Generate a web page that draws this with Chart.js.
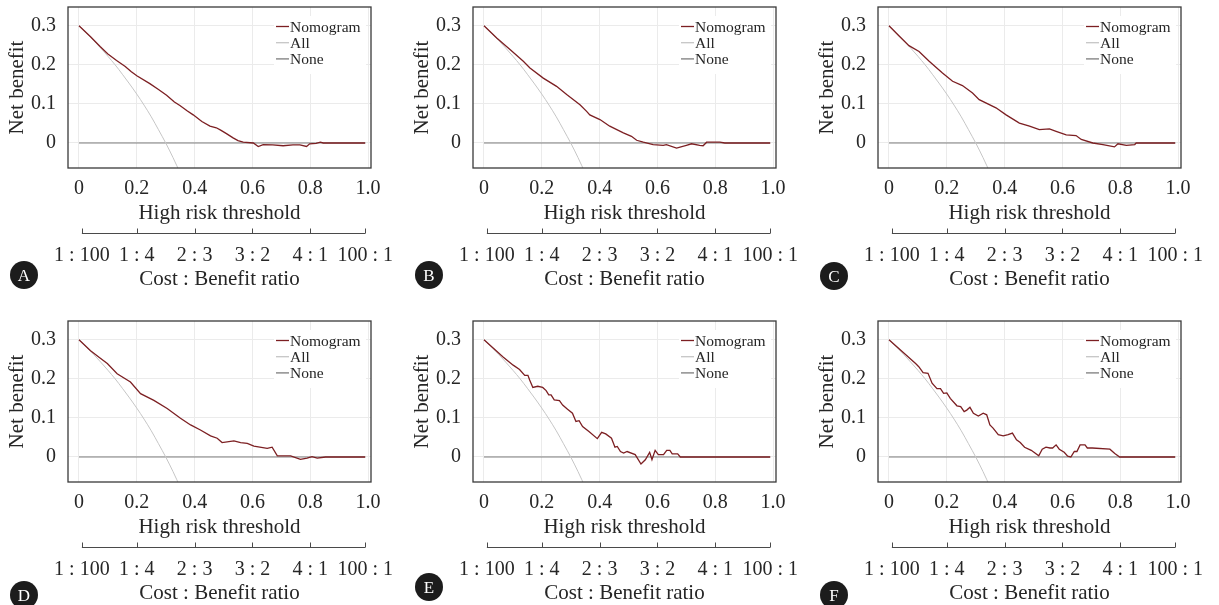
<!DOCTYPE html>
<html>
<head>
<meta charset="utf-8">
<script src="https://cdn.jsdelivr.net/npm/chart.js@4.4.1/dist/chart.umd.min.js"></script>
<style>
  body { margin: 0; background: #fff; width: 1219px; height: 605px; overflow: hidden; position: relative; }
  .panel { position: absolute; width: 410px; height: 300px; }
  .tag { position: absolute; left: 10px; width: 28px; height: 28px; border-radius: 50%; background: #1c1c1c;
         color: #fff; font: 17px 'Liberation Serif', serif; text-align: center; line-height: 29px; }
</style>
</head>
<body>
<div class="panel" style="left:0;top:0"><canvas id="cA" width="410" height="300"></canvas><div class="tag" style="top:261px">A</div></div>
<div class="panel" style="left:405px;top:0"><canvas id="cB" width="410" height="300"></canvas><div class="tag" style="top:261px">B</div></div>
<div class="panel" style="left:810px;top:0"><canvas id="cC" width="410" height="300"></canvas><div class="tag" style="top:262px">C</div></div>
<div class="panel" style="left:0;top:314px"><canvas id="cD" width="410" height="300"></canvas><div class="tag" style="top:267px">D</div></div>
<div class="panel" style="left:405px;top:314px"><canvas id="cE" width="410" height="300"></canvas><div class="tag" style="top:259px">E</div></div>
<div class="panel" style="left:810px;top:314px"><canvas id="cF" width="410" height="300"></canvas><div class="tag" style="top:267px">F</div></div>
<script>
// axis ticks
const riskTicks = [0, 0.2, 0.4, 0.6, 0.8, 1.0];
const riskLabels = ['0', '0.2', '0.4', '0.6', '0.8', '1.0'];
const ratioAt = [0.01, 0.2, 0.4, 0.6, 0.8, 0.99];
const ratioLabels = ['1 : 100', '1 : 4', '2 : 3', '3 : 2', '4 : 1', '100 : 1'];
const nbTicks = [0, 0.1, 0.2, 0.3];
const nbLabels = ['0', '0.1', '0.2', '0.3'];
const seriesNames = ['Nomogram', 'All', 'None'];

// treat-all and treat-none reference curves (same in every panel)
const allThr = [0, 0.025, 0.05, 0.075, 0.1, 0.125, 0.15, 0.175, 0.2, 0.225, 0.25, 0.275, 0.3, 0.325, 0.35];
const allNb = [0.300, 0.282, 0.263, 0.243, 0.222, 0.200, 0.176, 0.151, 0.125, 0.097, 0.067, 0.034, 0.000, -0.037, -0.077];
const noneThr = [0, 0.99];
const noneNb = [0, 0];

// nomogram curves, one per panel
const thrA = [0, 0.04, 0.073, 0.1, 0.13, 0.16, 0.18, 0.2, 0.245, 0.275, 0.303, 0.33, 0.349, 0.375, 0.395, 0.425, 0.453, 0.475, 0.49, 0.51, 0.533, 0.55, 0.568, 0.603, 0.62, 0.637, 0.67, 0.706, 0.74, 0.764, 0.787, 0.798, 0.82, 0.835, 0.845, 0.99];
const nbA = [0.300, 0.272, 0.247, 0.228, 0.211, 0.196, 0.183, 0.172, 0.152, 0.137, 0.122, 0.105, 0.096, 0.082, 0.072, 0.055, 0.043, 0.039, 0.033, 0.024, 0.013, 0.006, 0.002, 0.000, -0.009, -0.004, -0.005, -0.007, -0.005, -0.005, -0.009, -0.002, -0.001, 0.002, 0, 0];

const thrB = [0, 0.045, 0.09, 0.136, 0.159, 0.205, 0.251, 0.286, 0.332, 0.355, 0.366, 0.401, 0.435, 0.482, 0.51, 0.528, 0.551, 0.585, 0.62, 0.631, 0.666, 0.70, 0.718, 0.746, 0.758, 0.77, 0.816, 0.833, 0.99];
const nbB = [0.300, 0.268, 0.239, 0.209, 0.192, 0.166, 0.145, 0.124, 0.098, 0.081, 0.072, 0.060, 0.043, 0.026, 0.017, 0.007, 0.002, -0.004, -0.006, -0.004, -0.013, -0.006, -0.002, -0.006, -0.007, 0.002, 0.002, 0, 0];

const thrC = [0, 0.035, 0.069, 0.104, 0.139, 0.185, 0.22, 0.254, 0.289, 0.312, 0.37, 0.405, 0.451, 0.486, 0.52, 0.555, 0.578, 0.613, 0.647, 0.665, 0.705, 0.74, 0.78, 0.792, 0.821, 0.85, 0.855, 0.99];
const nbC = [0.300, 0.274, 0.249, 0.234, 0.209, 0.179, 0.158, 0.147, 0.128, 0.111, 0.090, 0.072, 0.051, 0.043, 0.034, 0.036, 0.030, 0.021, 0.019, 0.009, 0.000, -0.004, -0.010, -0.002, -0.006, -0.004, 0, 0];

const thrD = [0, 0.04, 0.075, 0.098, 0.132, 0.178, 0.213, 0.259, 0.305, 0.351, 0.386, 0.42, 0.455, 0.478, 0.495, 0.536, 0.559, 0.582, 0.605, 0.651, 0.668, 0.686, 0.732, 0.766, 0.789, 0.806, 0.824, 0.853, 0.99];
const nbD = [0.300, 0.272, 0.252, 0.239, 0.213, 0.192, 0.162, 0.145, 0.124, 0.099, 0.082, 0.069, 0.054, 0.048, 0.037, 0.041, 0.037, 0.035, 0.028, 0.022, 0.025, 0.003, 0.003, -0.006, -0.003, 0.001, -0.003, 0, 0];

const thrE = [0, 0.066, 0.101, 0.123, 0.141, 0.152, 0.158, 0.169, 0.186, 0.203, 0.215, 0.224, 0.232, 0.243, 0.261, 0.272, 0.289, 0.306, 0.318, 0.329, 0.341, 0.363, 0.392, 0.407, 0.421, 0.441, 0.453, 0.461, 0.472, 0.483, 0.495, 0.523, 0.543, 0.558, 0.573, 0.581, 0.592, 0.603, 0.621, 0.632, 0.643, 0.651, 0.67, 0.679, 0.99];
const nbE = [0.300, 0.256, 0.235, 0.224, 0.209, 0.209, 0.197, 0.178, 0.181, 0.178, 0.170, 0.159, 0.159, 0.146, 0.144, 0.133, 0.122, 0.112, 0.091, 0.093, 0.078, 0.065, 0.047, 0.063, 0.059, 0.048, 0.025, 0.027, 0.014, 0.010, 0.014, 0.006, -0.018, -0.007, 0.012, -0.007, 0.017, 0.006, 0.006, 0.017, 0.017, 0.008, 0.008, 0, 0];

const thrF = [0, 0.092, 0.103, 0.118, 0.135, 0.149, 0.166, 0.178, 0.189, 0.2, 0.212, 0.235, 0.248, 0.26, 0.269, 0.28, 0.292, 0.309, 0.326, 0.338, 0.349, 0.36, 0.378, 0.395, 0.412, 0.427, 0.441, 0.454, 0.469, 0.492, 0.518, 0.53, 0.543, 0.557, 0.566, 0.578, 0.589, 0.606, 0.618, 0.629, 0.641, 0.65, 0.661, 0.678, 0.686, 0.703, 0.764, 0.781, 0.798, 0.99];
const nbF = [0.300, 0.239, 0.231, 0.216, 0.214, 0.189, 0.175, 0.175, 0.163, 0.164, 0.150, 0.131, 0.129, 0.116, 0.120, 0.127, 0.112, 0.105, 0.112, 0.108, 0.082, 0.074, 0.057, 0.054, 0.057, 0.061, 0.044, 0.037, 0.025, 0.017, 0.003, 0.020, 0.025, 0.023, 0.023, 0.031, 0.020, 0.012, 0.002, 0, 0.014, 0.014, 0.031, 0.031, 0.023, 0.023, 0.020, 0.009, 0, 0];

const xMin = -0.038, xMax = 1.01;
const yMin = -0.064, yMax = 0.348;
const serif = "'Liberation Serif', serif";
const textColor = '#262626';
const gridColor = '#ebebeb';
const lineColors = ['#7c1f22', '#c6c6c6', '#7d7d7d'];

function toPoints(xs, ys) {
    return xs.map((x, i) => ({ x: x, y: ys[i] }));
}

// fixed box sizes, no extra room for overhanging labels
function fixSize(prop, size) {
    return s => {
        s[prop] = size;
        s.paddingTop = 0; s.paddingBottom = 0; s.paddingLeft = 0; s.paddingRight = 0;
    };
}

// frame, cost:benefit axis line and the legend
const panelDecor = {
    id: 'panelDecor',
    afterDraw(chart) {
        const { ctx, chartArea: a, scales } = chart;
        ctx.save();
        ctx.strokeStyle = '#3a3a3a';
        ctx.lineWidth = 1.3;
        ctx.strokeRect(a.left, a.top, a.width, a.height);

        const s = scales.x2;
        const y = s.top + 7.5;
        ctx.strokeStyle = '#4a4a4a';
        ctx.lineWidth = 1;
        ctx.beginPath();
        ctx.moveTo(s.getPixelForValue(ratioAt[0]), y);
        ctx.lineTo(s.getPixelForValue(ratioAt[ratioAt.length - 1]), y);
        ratioAt.forEach(v => {
            const px = Math.round(s.getPixelForValue(v)) + 0.5;
            ctx.moveTo(px, y);
            ctx.lineTo(px, y - 5);
        });
        ctx.stroke();

        // legend in the top right corner
        ctx.fillStyle = '#fff';
        ctx.fillRect(a.right - 97, a.top + 9, 92, 58);
        ctx.font = '15.5px ' + serif;
        ctx.textBaseline = 'middle';
        chart.data.datasets.forEach((ds, i) => {
            const ly = a.top + 19.5 + i * 16.2;
            ctx.strokeStyle = ds.borderColor;
            ctx.lineWidth = 1.3;
            ctx.beginPath();
            ctx.moveTo(a.right - 95, ly);
            ctx.lineTo(a.right - 82, ly);
            ctx.stroke();
            ctx.fillStyle = textColor;
            ctx.fillText(ds.label, a.right - 81, ly + 1);
        });
        ctx.restore();
    }
};

function makePanel(id, thr, nb) {
    const tickFont = { family: serif, size: 20 };
    const titleFont = { family: serif, size: 21 };
    new Chart(document.getElementById(id), {
        type: 'line',
        data: {
            datasets: [
                { label: seriesNames[0], data: toPoints(thr, nb), borderColor: lineColors[0], borderWidth: 1.3 },
                { label: seriesNames[1], data: toPoints(allThr, allNb), borderColor: lineColors[1], borderWidth: 1, cubicInterpolationMode: 'monotone' },
                { label: seriesNames[2], data: toPoints(noneThr, noneNb), borderColor: lineColors[2], borderWidth: 1 }
            ]
        },
        options: {
            responsive: false,
            animation: false,
            layout: { padding: { top: 7, right: 39, bottom: 8, left: 0 } },
            elements: { point: { radius: 0 }, line: { tension: 0 } },
            plugins: { legend: { display: false }, tooltip: { enabled: false } },
            scales: {
                x: {
                    type: 'linear', position: 'bottom', weight: 0, min: xMin, max: xMax,
                    afterBuildTicks: s => { s.ticks = riskTicks.map(v => ({ value: v })); },
                    afterFit: fixSize('height', 58),
                    ticks: { font: tickFont, color: textColor, padding: 9, maxRotation: 0, autoSkip: false,
                             callback: (v, i) => riskLabels[i] },
                    grid: { color: gridColor, drawTicks: false },
                    border: { display: false },
                    title: { display: true, text: 'High risk threshold', font: titleFont, color: textColor,
                             padding: { top: 0, bottom: 0 } }
                },
                x2: {
                    type: 'linear', position: 'bottom', weight: 1, min: xMin, max: xMax,
                    afterBuildTicks: s => { s.ticks = ratioAt.map(v => ({ value: v })); },
                    afterFit: fixSize('height', 66),
                    ticks: { font: tickFont, color: textColor, padding: 18, maxRotation: 0, autoSkip: false,
                             callback: (v, i) => ratioLabels[i] },
                    grid: { display: false, drawTicks: false },
                    border: { display: false },
                    title: { display: true, text: 'Cost : Benefit ratio', font: titleFont, color: textColor,
                             padding: { top: 0, bottom: 0 } }
                },
                y: {
                    min: yMin, max: yMax,
                    afterBuildTicks: s => { s.ticks = nbTicks.map(v => ({ value: v })); },
                    afterFit: fixSize('width', 68),
                    ticks: { font: tickFont, color: textColor, padding: 12, callback: (v, i) => nbLabels[i] },
                    grid: { color: gridColor, drawTicks: false },
                    border: { display: false },
                    title: { display: true, text: 'Net benefit', font: titleFont, color: textColor,
                             padding: { top: 5, bottom: 0 } }
                }
            }
        },
        plugins: [panelDecor]
    });
}

makePanel('cA', thrA, nbA);
makePanel('cB', thrB, nbB);
makePanel('cC', thrC, nbC);
makePanel('cD', thrD, nbD);
makePanel('cE', thrE, nbE);
makePanel('cF', thrF, nbF);
</script>
</body>
</html>
